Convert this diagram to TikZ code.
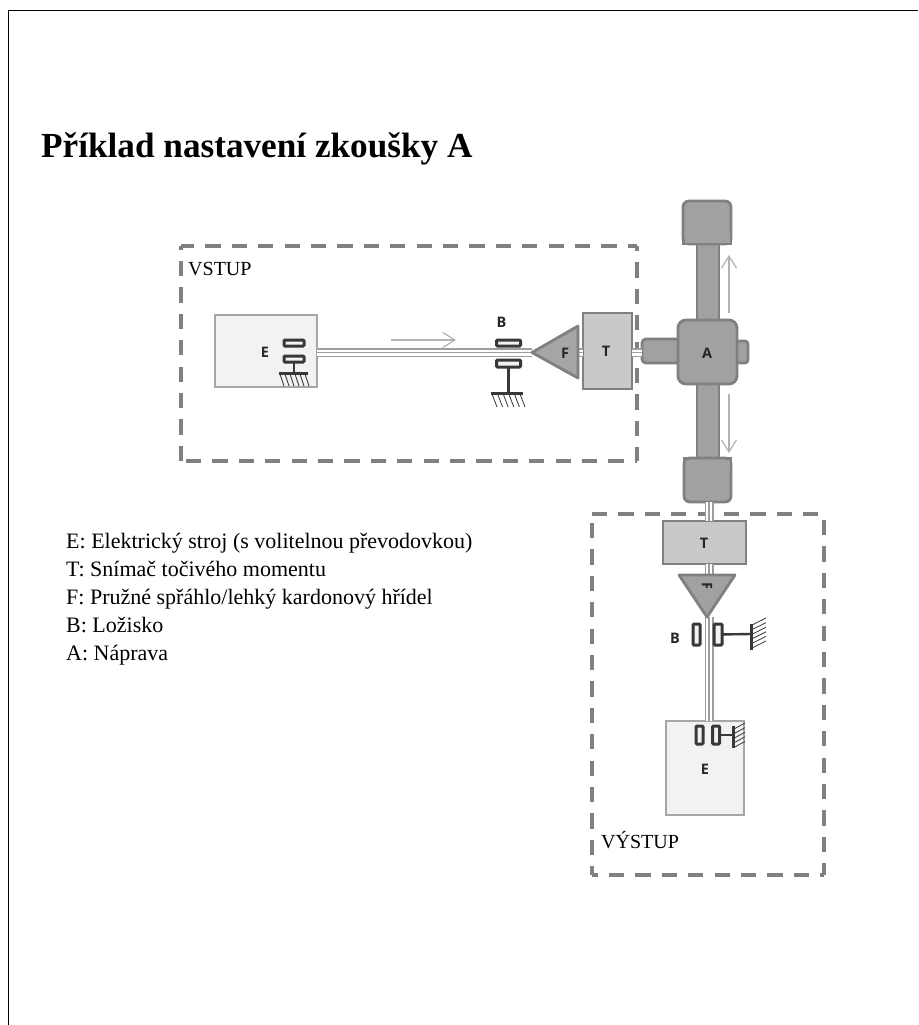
\documentclass[tikz,border=0pt]{standalone}
\usepackage{fontspec}
\setmainfont{Liberation Serif}
\newfontfamily\lblfont{Open Sans}
\usetikzlibrary{arrows.meta}
\definecolor{dashc}{gray}{0.5}
\definecolor{edgec}{gray}{0.5}
\definecolor{machedge}{gray}{0.65}
\definecolor{machfill}{gray}{0.95}
\definecolor{tfill}{gray}{0.79}
\definecolor{ffill}{gray}{0.65}
\definecolor{axfill}{gray}{0.63}
\definecolor{shaftc}{gray}{0.62}
\definecolor{arrc}{gray}{0.7}
\definecolor{bearc}{gray}{0.22}
\tikzset{
  x=1pt,y=-1pt,
  dashside/.style={draw=dashc,line width=3.2pt,dash pattern=on 15.2pt off 11.2pt,dash phase=#1},
  machine/.style={draw=machedge,fill=machfill,line width=2.2pt,inner sep=0pt,outer sep=0pt,rectangle},
  tbox/.style={draw=edgec,fill=tfill,line width=2.8pt,inner sep=0pt,outer sep=0pt,rectangle},
  axbox/.style={draw=edgec,fill=axfill,line width=2.8pt,inner sep=0pt,outer sep=0pt,rectangle},
  tri/.style={draw=edgec,fill=ffill,line width=2.8pt,line join=round},
  shaft/.style={draw=shaftc,line width=9pt,postaction={draw=white,line width=6pt},postaction={draw=shaftc,line width=1.6pt}},
  bearing/.style={draw=bearc,fill=machfill,line width=3pt,inner sep=0pt,outer sep=0pt,rectangle,rounded corners=1pt},
  stem/.style={draw=bearc,line width=2.4pt},
  gbar/.style={draw=bearc,line width=3pt},
  hatch/.style={draw=bearc,line width=0.8pt},
  motion/.style={draw=arrc,line width=1.5pt,-{Straight Barb[length=12pt,width=15pt,line width=1.2pt]}},
  lbl/.style={font=\lblfont\bfseries\fontsize{14.5}{14.5}\selectfont,text=black!85,inner sep=0pt},
  caption/.style={font=\fontsize{20}{20}\selectfont,anchor=base west,inner sep=0pt},
  legend/.style={font=\fontsize{22}{22}\selectfont,anchor=base west,inner sep=0pt}
}
\begin{document}
\begin{tikzpicture}
\useasboundingbox (0,0) rectangle (918,1025);
\fill[white] (0,0) rectangle (918,1025);
% page frame
\draw[black,line width=0.9pt] (8,1025) -- (8,10) -- (918,10);
% title
\node[anchor=base west,inner sep=0pt,font=\bfseries\fontsize{35.2}{35.2}\selectfont] (title) at (41,157) {Příklad nastavení zkoušky A};
% dashed groups
\draw[dashside=2] (181,246) -- (637,246);
\draw[dashside=10] (637,246) -- (637,461);
\draw[dashside=21.4] (181,461) -- (637,461);
\draw[dashside=0] (181,461) -- (181,246);
\draw[dashside=0] (592,514) -- (824,514);
\draw[dashside=20.4] (824,514) -- (824,875);
\draw[dashside=9.4] (592,875) -- (824,875);
\draw[dashside=17.4] (592,514) -- (592,875);
\node[caption] (vstup) at (188,275) {VSTUP};
\node[caption] (vystup) at (601,848) {VÝSTUP};
% axle: vertical bar and caps
\node[axbox,minimum width=22pt,minimum height=220pt] (bar) at (708,352) {};
\node[axbox,minimum width=48pt,minimum height=43pt,rounded corners=6pt] (captop) at (707,222.5) {};
\fill[axfill] (684.5,232) rectangle (729.5,242.5);
\draw[edgec,line width=2.8pt] (683,230) -- (683,244) -- (731,244) -- (731,230);
\node[axbox,minimum width=47pt,minimum height=44pt,rounded corners=6pt] (capbot) at (707.5,480) {};
\fill[axfill] (685.5,459.5) rectangle (729.5,470);
\draw[edgec,line width=2.8pt] (684,472) -- (684,458) -- (731,458) -- (731,472);
% shafts
\coordinate (Fiapex) at (532,352.5);
\node[machine,minimum width=102pt,minimum height=72pt] (Ein) at (266,351) {};
\draw[shaft] (Ein.east |- Fiapex) -- (Fiapex);
\node[tbox,minimum width=49pt,minimum height=76pt] (Tin) at (607.5,351) {};
\node[axbox,minimum width=38pt,minimum height=24pt,rounded corners=4pt] (stubL) at (661,351) {};
\node[axbox,minimum width=18pt,minimum height=22pt,rounded corners=3pt] (stubR) at (739,352) {};
\draw[shaft] (Tin.east |- Fiapex) -- (stubL.west |- Fiapex);
\node[axbox,minimum width=59pt,minimum height=64pt,rounded corners=8pt] (axle) at (707.5,352) {};
\node[lbl] (lA) at (707,353) {A};
% input side
\draw[shaft] (578,352.5) -- (Tin.west |- Fiapex);
\node[lbl] (lE1) at (265,352) {E};
\node[bearing,minimum width=20pt,minimum height=6pt] (b1) at (294,343) {};
\node[bearing,minimum width=20pt,minimum height=6pt] (b2) at (294,359) {};
\coordinate (g1) at (294,373);
\draw[stem] (b2) -- (g1);
\draw[gbar] (279,373) -- (308,373);
\foreach \i in {0,...,5} \draw[hatch] ({280+\i*5},374) -- ({284+\i*5},386);
\node[bearing,minimum width=24pt,minimum height=6pt] (b3) at (508.5,343) {};
\node[bearing,minimum width=24pt,minimum height=7pt] (b4) at (508.5,363.5) {};
\coordinate (g2) at (508.5,393);
\draw[stem] (b4) -- (g2);
\draw[gbar] (491,393) -- (523,393);
\foreach \i in {0,...,5} \draw[hatch] ({492+\i*5.6},394) -- ({497+\i*5.6},407);
\node[lbl] (lB1) at (501.5,322) {B};
\coordinate (arrS) at (391,340);
\coordinate (arrE) at (456,340);
\draw[motion] (arrS) -- (arrE);
\draw[tri] (Fiapex) -- (578,326) -- (578,378) -- cycle;
\node[lbl] (lF1) at (565,353) {F};
\node[lbl] (lT1) at (606,351) {T};
% axle motion arrows
\coordinate (up1) at (729,313);
\coordinate (up2) at (729,255);
\coordinate (dn1) at (729,394);
\coordinate (dn2) at (729,453);
\draw[motion] (up1) -- (up2);
\draw[motion] (dn1) -- (dn2);
% output side
\coordinate (Fo) at (707,617);
\node[tbox,minimum width=83pt,minimum height=43pt] (Tout) at (704.5,542.5) {};
\node[machine,minimum width=78pt,minimum height=94pt] (Eout) at (705,768) {};
\draw[shaft] (capbot.south -| 709,0) -- (709,521);
\draw[shaft] (709,564) -- (709,575);
\draw[shaft] (709,617) -- (709,721);
\draw[tri,fill=axfill] (679,575) -- (735,575) -- (Fo) -- cycle;
\begin{scope}
\clip (690,580) rectangle (725,587.5);
\node[lbl,rotate=-90] (lF2) at (707,586) {F};
\end{scope}
\node[lbl] (lT2) at (704,543) {T};
\node[bearing,minimum width=7pt,minimum height=21pt] (b5) at (696.5,634.5) {};
\node[bearing,minimum width=8pt,minimum height=21pt] (b6) at (718,634.5) {};
\coordinate (g3) at (751,634);
\draw[stem] (b6) -- (g3);
\draw[gbar] (751,624) -- (751,650);
\foreach \i in {0,...,5} \draw[hatch] (752,{625+\i*4.6}) -- (766,{618+\i*4.6});
\node[lbl] (lB2) at (675,638) {B};
\node[bearing,minimum width=7pt,minimum height=18pt] (b7) at (699.5,735) {};
\node[bearing,minimum width=7pt,minimum height=18pt] (b8) at (716,735) {};
\coordinate (g4) at (733,735);
\draw[stem] (b8) -- (g4);
\draw[gbar] (733,726) -- (733,748);
\foreach \i in {0,...,4} \draw[hatch] (734,{729+\i*4.6}) -- (745,{723+\i*4.6});
\node[lbl] (lE2) at (705,769) {E};
% legend
\node[legend] (l1) at (66,548) {E: Elektrický stroj (s volitelnou převodovkou)};
\node[legend] (l2) at (66,576) {T: Snímač točivého momentu};
\node[legend] (l3) at (66,604) {F: Pružné spřáhlo/lehký kardonový hřídel};
\node[legend] (l4) at (66,632) {B: Ložisko};
\node[legend] (l5) at (66,660) {A: Náprava};
\end{tikzpicture}
\end{document}
